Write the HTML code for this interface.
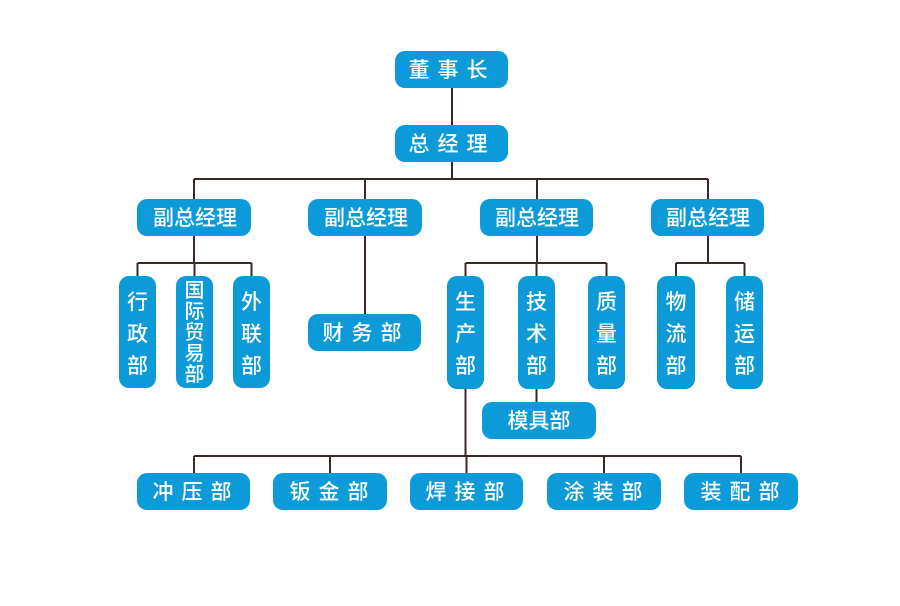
<!DOCTYPE html>
<html><head><meta charset="utf-8"><style>
html,body{margin:0;padding:0;background:#fff;}
svg text{font-family:"Liberation Sans","Noto Sans CJK SC",sans-serif;fill:#fff;font-size:21px;font-weight:500;text-anchor:middle;}
</style></head><body>
<svg width="900" height="601" viewBox="0 0 900 601" xmlns="http://www.w3.org/2000/svg">
<g stroke="#3a2a25" stroke-width="2" fill="none">
<path d="M452 88V125M452 162V179M194 179H708M194 179V199M365 179V199M537 179V199M708 179V199"/>
<path d="M194 236V263M137.5 263H251.5M137.5 263V276M194.5 263V276M251.5 263V276"/>
<path d="M365 236V314"/>
<path d="M537 236V263M465.5 263H606.5M465.5 263V276M536.5 263V276M606.5 263V276"/>
<path d="M708 236V263M676 263H744.5M676 263V276M744.5 263V276"/>
<path d="M536.5 389V402M465.5 389V456M194 456H741M194 456V473M330 456V473M466.5 456V473M604 456V473M741 456V473"/>
</g>
<g fill="#0c9ad9">
<rect x="395" y="51" width="113" height="37" rx="10"/>
<rect x="395" y="125" width="113" height="37" rx="10"/>
<rect x="137" y="199" width="114" height="37" rx="10"/>
<rect x="308" y="199" width="114" height="37" rx="10"/>
<rect x="480" y="199" width="113" height="37" rx="10"/>
<rect x="651" y="199" width="113" height="37" rx="10"/>
<rect x="119" y="276" width="37" height="112" rx="10"/>
<rect x="176" y="276" width="37" height="112" rx="10"/>
<rect x="233" y="276" width="37" height="112" rx="10"/>
<rect x="308" y="314" width="113" height="37" rx="10"/>
<rect x="447" y="276" width="37" height="113" rx="10"/>
<rect x="518" y="276" width="37" height="113" rx="10"/>
<rect x="588" y="276" width="37" height="113" rx="10"/>
<rect x="657" y="276" width="38" height="113" rx="10"/>
<rect x="726" y="276" width="37" height="113" rx="10"/>
<rect x="482" y="402" width="114" height="37" rx="10"/>
<rect x="137" y="473" width="113" height="37" rx="10"/>
<rect x="273" y="473" width="114" height="37" rx="10"/>
<rect x="410" y="473" width="113" height="37" rx="10"/>
<rect x="547" y="473" width="114" height="37" rx="10"/>
<rect x="684" y="473" width="114" height="37" rx="10"/>
</g>
<text x="452" y="77" letter-spacing="8">董事长</text>
<text x="452" y="151" letter-spacing="8">总经理</text>
<text x="195" y="225">副总经理</text>
<text x="366" y="225">副总经理</text>
<text x="537" y="225">副总经理</text>
<text x="708" y="225">副总经理</text>
<text x="366" y="340" letter-spacing="8">财务部</text>
<text x="539" y="428">模具部</text>
<text x="196" y="499" letter-spacing="8">冲压部</text>
<text x="333" y="499" letter-spacing="8">钣金部</text>
<text x="469" y="499" letter-spacing="8">焊接部</text>
<text x="607" y="499" letter-spacing="8">涂装部</text>
<text x="744" y="499" letter-spacing="8">装配部</text>
<g>
<text x="137.5" y="309">行</text><text x="137.5" y="341">政</text><text x="137.5" y="373">部</text>
<text x="194.5" y="297" style="font-size:20px">国</text><text x="194.5" y="318" style="font-size:20px">际</text><text x="194.5" y="339" style="font-size:20px">贸</text><text x="194.5" y="360" style="font-size:20px">易</text><text x="194.5" y="381" style="font-size:20px">部</text>
<text x="251.5" y="309">外</text><text x="251.5" y="341">联</text><text x="251.5" y="373">部</text>
<text x="465.5" y="309">生</text><text x="465.5" y="341">产</text><text x="465.5" y="373">部</text>
<text x="536.5" y="309">技</text><text x="536.5" y="341">术</text><text x="536.5" y="373">部</text>
<text x="606.5" y="309">质</text><text x="606.5" y="341">量</text><text x="606.5" y="373">部</text>
<text x="676" y="309">物</text><text x="676" y="341">流</text><text x="676" y="373">部</text>
<text x="744.5" y="309">储</text><text x="744.5" y="341">运</text><text x="744.5" y="373">部</text>
</g>
</svg>
</body></html>
